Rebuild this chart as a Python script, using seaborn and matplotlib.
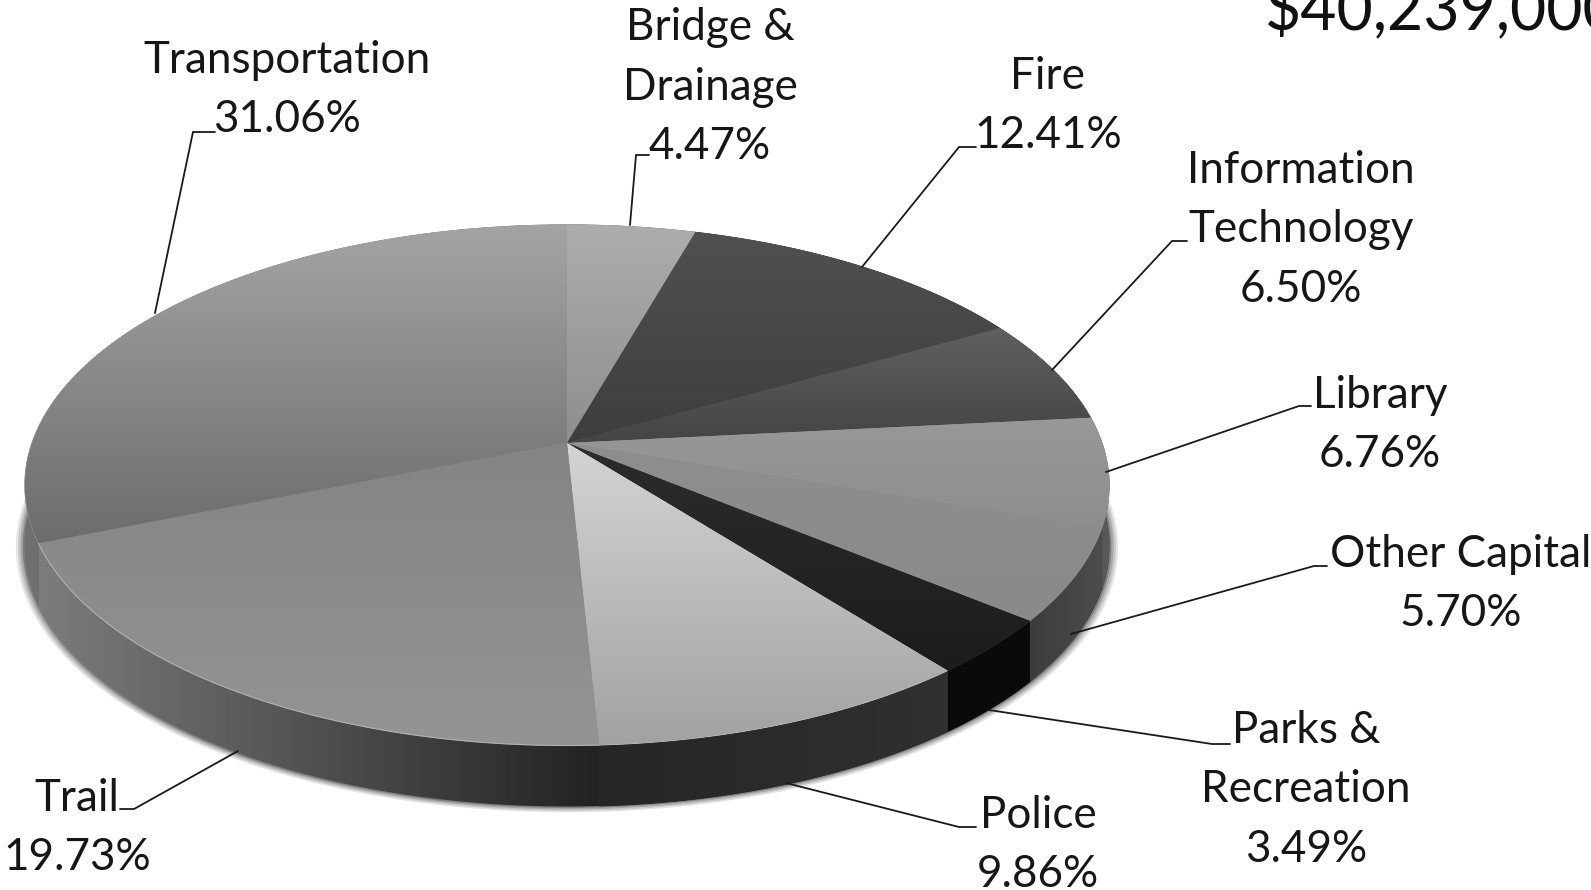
# 3D style grayscale pie of capital budget shares
import numpy as np
import matplotlib
matplotlib.use('Agg')
import matplotlib.pyplot as plt
from matplotlib.colors import LinearSegmentedColormap
from matplotlib.patches import Polygon
import seaborn as sns

# data, clockwise from 12 o'clock
categories = ['Bridge &\nDrainage', 'Fire', 'Information\nTechnology', 'Library', 'Other Capital',
              'Parks &\nRecreation', 'Police', 'Trail', 'Transportation']
shares = [4.47, 12.41, 6.50, 6.76, 5.70, 3.49, 9.86, 19.73, 31.06]
total_label = '$40,239,000'

# top face gradient (upper colour, lower colour)
top_upper = ['#adadad', '#505050', '#606060', '#989898', '#8e8e8e', '#2c2c2c', '#d4d4d4', '#848484', '#a4a4a4']
top_lower = ['#8e8e8e', '#3e3e3e', '#444444', '#8e8e8e', '#8a8a8a', '#1c1c1c', '#a2a2a2', '#949494', '#6c6c6c']
# side wall gradient (left colour, right colour)
wall_left = ['#555555', '#333333', '#444444', '#4c4c4c', '#3c3c3c', '#0a0a0a', '#262626', '#7c7c7c', '#707070']
wall_right = ['#555555', '#333333', '#444444', '#5c5c5c', '#4c4c4c', '#0a0a0a', '#303030', '#222222', '#606060']

# label anchors and leader lines, in figure pixels
label_pos = [(710, 87), (1048, 106), (1301, 230), (1380, 425), (1461, 584),
             (1306, 790), (1038, 845), (77, 828), (287, 90)]
leaders = [[(630, 225), (636, 155), (649, 155)],
           [(862, 267), (959, 147), (976, 147)],
           [(1052, 370), (1172, 241), (1187, 241)],
           [(1106, 472), (1299, 406), (1311, 406)],
           [(1071, 634), (1314, 566), (1327, 566)],
           [(989, 710), (1212, 744), (1230, 744)],
           [(786, 783), (959, 827), (976, 827)],
           [(238, 751), (134, 809), (120, 809)],
           [(155, 313), (193, 132), (215, 132)]]

# perspective of the tilted disc
CX, CY = 567, 443
A, B, K = 535, 253.5, 0.162
DEPTH = 61


def project(u, v, dy=0):
    w = 1 + K * v
    return np.column_stack([CX + A * u / w, CY - B * v / w + dy])


def gradient_fill(ax, poly, c1, c2, horizontal=False, z=2):
    # base polygon hides seams, image gives the shading
    ax.fill(poly[:, 0], poly[:, 1], color=c1, lw=0.6, zorder=z)
    cmap = LinearSegmentedColormap.from_list('g', [c1, c2])
    grad = np.linspace(0, 1, 256)
    grad = grad.reshape(1, -1) if horizontal else grad.reshape(-1, 1)
    x0, x1, y0, y1 = poly[:, 0].min(), poly[:, 0].max(), poly[:, 1].min(), poly[:, 1].max()
    im = ax.imshow(grad, cmap=cmap, extent=[x0, x1, y1, y0], aspect='auto', zorder=z + 0.1, interpolation='bilinear')
    clip = Polygon(poly, transform=ax.transData, fc='none', ec='none')
    im.set_clip_path(clip)


sns.set_theme(style='white')
plt.rcParams['font.family'] = ['Lato', 'DejaVu Sans']

fig = plt.figure(figsize=(15.91, 8.9), dpi=100)
ax = fig.add_axes([0, 0, 1, 1])

# let the pie work out the slice angles
wedges, _ = ax.pie(shares, startangle=90, counterclock=False, radius=1)
for w in wedges:
    w.set_visible(False)
ax.set_aspect('auto')

# soft shadow under the disc
circle = np.radians(np.linspace(0, 360, 400))
for grow, shade in zip([1.016, 1.012, 1.008, 1.004], ['#e4e4e4', '#c8c8c8', '#a8a8a8', '#808080']):
    ring = project(grow * np.cos(circle), grow * np.sin(circle), DEPTH)
    ax.fill(ring[:, 0], ring[:, 1], color=shade, lw=0, zorder=1)

# side wall first, top face over it
for i, w in enumerate(wedges):
    t = np.radians(np.linspace(w.theta1, w.theta2, 120))
    arc = project(np.cos(t), np.sin(t))
    low = project(np.cos(t), np.sin(t), DEPTH)
    gradient_fill(ax, np.vstack([arc, low[::-1]]), wall_left[i], wall_right[i], horizontal=True, z=2)

for i, w in enumerate(wedges):
    t = np.radians(np.linspace(w.theta1, w.theta2, 120))
    arc = project(np.cos(t), np.sin(t))
    poly = np.vstack([project(np.array([0.0]), np.array([0.0])), arc])
    gradient_fill(ax, poly, top_upper[i], top_lower[i], z=3)

# thin light rim along the front of the Trail slice
t = np.radians(np.linspace(wedges[7].theta1, wedges[7].theta2, 120))
rim = project(np.cos(t), np.sin(t))
ax.plot(rim[:, 0], rim[:, 1], color='#b0b0b0', lw=0.8, zorder=4)

# leaders and labels
for pts in leaders:
    xs, ys = zip(*pts)
    ax.plot(xs, ys, color='#1a1a1a', lw=1.3, zorder=5, solid_joinstyle='miter')

for name, pct, (x, y) in zip(categories, shares, label_pos):
    ax.text(x, y, f'{name}\n{pct:.2f}%', ha='center', va='center', fontsize=31.7, color='#161616',
            linespacing=1.57, zorder=6)

ax.text(1265, 29, total_label, ha='left', va='baseline', fontsize=45, color='#111111', zorder=6)

ax.set_xlim(0, 1591)
ax.set_ylim(890, 0)
ax.axis('off')

plt.savefig('out.png', dpi=100)
